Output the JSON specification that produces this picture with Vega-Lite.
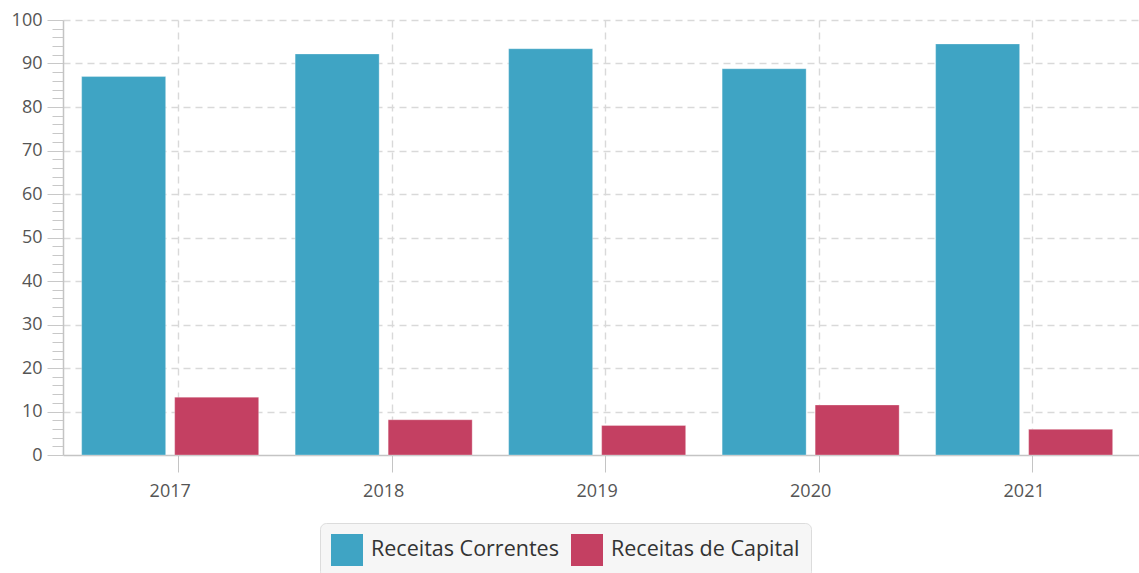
{
  "$schema": "https://vega.github.io/schema/vega-lite/v6.json",
  "autosize": {"type": "none"},
  "width": 1076,
  "height": 435,
  "padding": {"left": 63, "top": 20, "right": 0, "bottom": 118},
  "background": "white",
  "config": {"view": {"stroke": null}, "font": "Open Sans"},
  "data": {"values": [
    {"ano": "2017", "serie": "Receitas Correntes", "valor": 87.0},
    {"ano": "2017", "serie": "Receitas de Capital", "valor": 13.3},
    {"ano": "2018", "serie": "Receitas Correntes", "valor": 92.2},
    {"ano": "2018", "serie": "Receitas de Capital", "valor": 8.1},
    {"ano": "2019", "serie": "Receitas Correntes", "valor": 93.4},
    {"ano": "2019", "serie": "Receitas de Capital", "valor": 6.8},
    {"ano": "2020", "serie": "Receitas Correntes", "valor": 88.8},
    {"ano": "2020", "serie": "Receitas de Capital", "valor": 11.5},
    {"ano": "2021", "serie": "Receitas Correntes", "valor": 94.5},
    {"ano": "2021", "serie": "Receitas de Capital", "valor": 5.9}
  ]},
  "mark": {"type": "bar", "stroke": "white", "strokeOpacity": 0.3, "strokeWidth": 1},
  "encoding": {
    "x": {
      "field": "ano", "type": "nominal",
      "scale": {"paddingInner": 0, "paddingOuter": 0.02, "align": 0.05},
      "axis": {
        "title": null, "labelAngle": 0, "bandPosition": 0.54,
        "grid": true, "gridDash": [7, 5], "gridColor": "#d9d9d9", "gridWidth": 1.4,
        "tickSize": 17, "tickColor": "#c4c4c4", "domainColor": "#c4c4c4", "domainWidth": 1.5,
        "labelFontSize": 18, "labelColor": "#555", "labelPadding": 10, "labelFont": "Open Sans"
      }
    },
    "xOffset": {
      "field": "serie", "type": "nominal",
      "scale": {"paddingInner": 0.0968, "paddingOuter": 0.196}
    },
    "y": {
      "field": "valor", "type": "quantitative",
      "scale": {"domain": [0, 100], "nice": false},
      "axis": {
        "title": null,
        "values": [0,2,4,6,8,10,12,14,16,18,20,22,24,26,28,30,32,34,36,38,40,42,44,46,48,50,52,54,56,58,60,62,64,66,68,70,72,74,76,78,80,82,84,86,88,90,92,94,96,98,100],
        "labelExpr": "datum.value % 10 === 0 ? datum.label : ''",
        "labelOverlap": false,
        "labelFontSize": 18, "labelColor": "#555", "labelPadding": 5, "labelFont": "Open Sans",
        "tickSize": {"condition": {"test": "datum.value % 10 === 0", "value": 16}, "value": 11},
        "tickColor": "#c8c8c8", "domainColor": "#c4c4c4", "domainWidth": 1.5,
        "grid": true,
        "gridOpacity": {"condition": {"test": "datum.value % 10 === 0 && datum.value > 0", "value": 1}, "value": 0},
        "gridDash": [7, 5], "gridColor": "#d9d9d9", "gridWidth": 1.4
      }
    },
    "color": {
      "field": "serie", "type": "nominal",
      "scale": {"domain": ["Receitas Correntes", "Receitas de Capital"], "range": ["#3fa4c4", "#c44062"]},
      "legend": {
        "orient": "none", "legendX": 257, "legendY": 503, "direction": "horizontal",
        "title": null, "symbolType": "square", "symbolSize": 1024, "symbolStrokeWidth": 0,
        "symbolOpacity": 1,
        "labelFontSize": 21.5, "labelColor": "#333", "labelFont": "Open Sans", "labelLimit": 400,
        "fillColor": "#f6f6f6", "strokeColor": "#dcdcdc", "cornerRadius": 6,
        "padding": 11, "labelOffset": 8, "columnPadding": 12
      }
    }
  }
}
